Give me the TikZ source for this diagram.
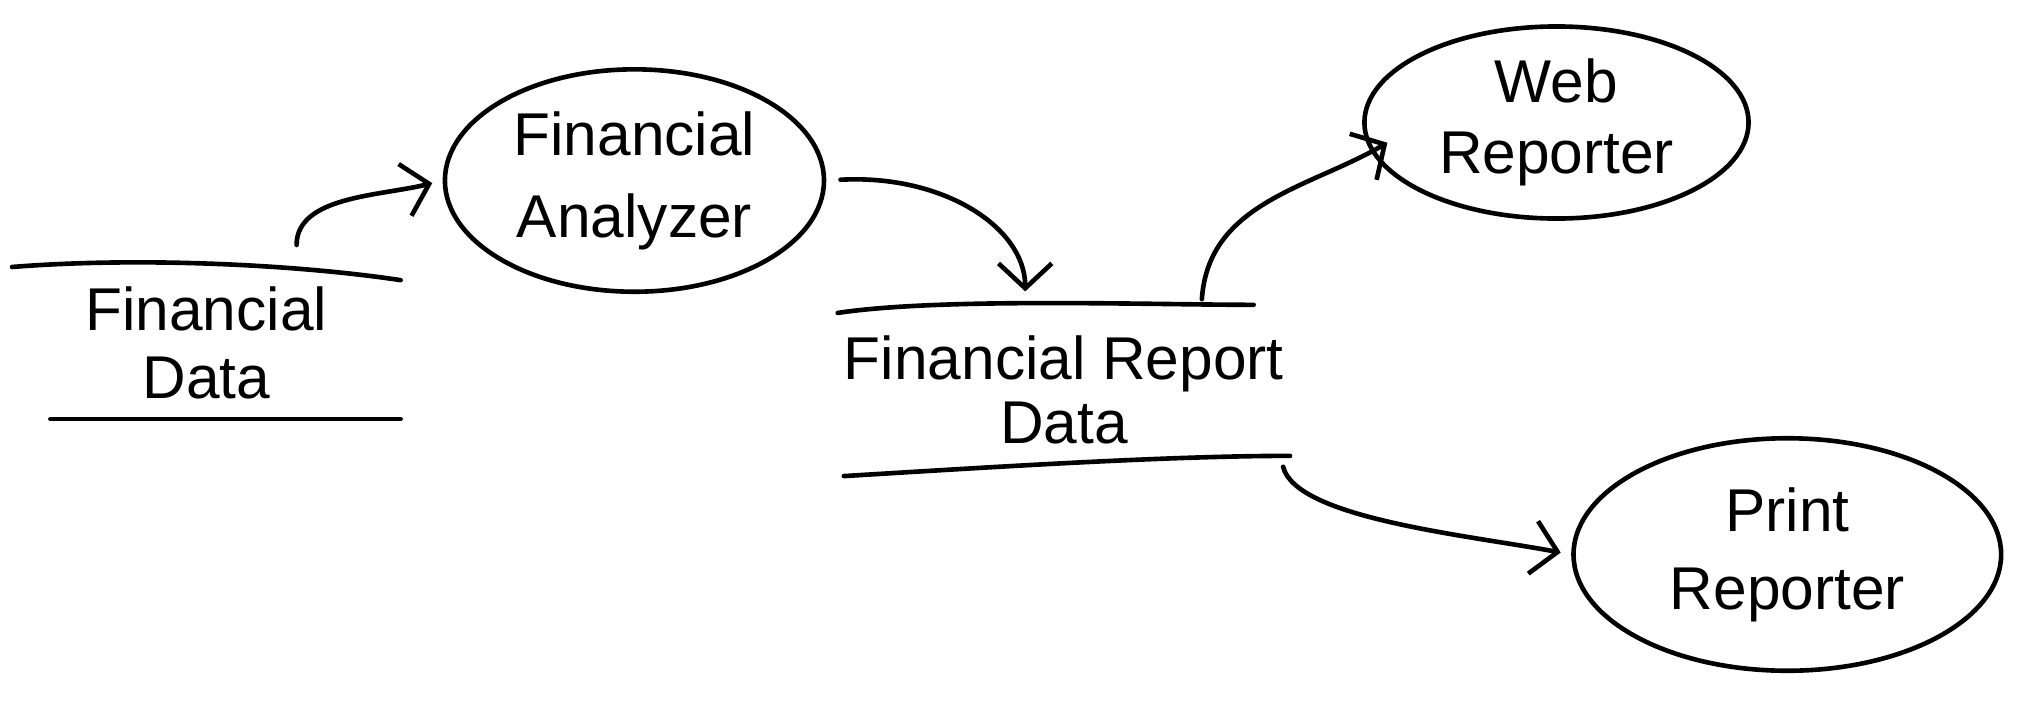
\documentclass[tikz,border=0pt]{standalone}
\usepackage{fontspec}
\setmainfont{Liberation Sans}
\usetikzlibrary{arrows.meta,shapes.geometric}
\tikzset{
  pen/.style={line width=1.3pt, line cap=round, line join=round},
  proc/.style={draw, ellipse, pen, inner sep=0pt, align=center},
  storebox/.style={inner sep=0pt, align=center},
  flow/.style={pen, -{Straight Barb[length=7pt,width=15pt,line width=1.3pt]}},
  hand/.style={font=\fontsize{17}{#1}\selectfont}
}
\begin{document}
\begin{tikzpicture}[x=0.01275cm,y=-0.01275cm]
\useasboundingbox (0,0) rectangle (1568,554);
\fill[white] (0,0) rectangle (1568,554);

% processes
\node[proc, hand=23pt, minimum width=3.75cm, minimum height=2.2cm] (fa) at (492,140) {Financial\\Analyzer};
\node[proc, hand=20pt, minimum width=3.8cm, minimum height=1.9cm] (web) at (1207,95) {Web\\Reporter};
\node[proc, hand=22pt, minimum width=4.23cm, minimum height=2.3cm] (pr) at (1386,430) {Print\\Reporter};

% data stores
\node[storebox, hand=19pt, minimum width=3.83cm, minimum height=1.49cm] (fd) at (160,266) {Financial\\Data};
\node[storebox, hand=18pt, minimum width=4.46cm, minimum height=1.5cm] (frd) at (825,302) {Financial Report\\Data};

\draw[pen] (fd.north west) .. controls +(100,-8) and +(-80,-12) .. ([yshift=-0.13cm]fd.north east);
\draw[pen] ([xshift=0.38cm]fd.south west) -- (fd.south east);
\draw[pen] (frd.north west) .. controls +(80,-12) and +(-80,0) .. ([xshift=-0.36cm,yshift=0.08cm]frd.north east);
\draw[pen] ([xshift=0.06cm,yshift=-0.1cm]frd.south west) .. controls +(100,-6) and +(-100,0) .. ([yshift=0.1cm]frd.south east);

% connectors
\coordinate (a1s) at (230,190);
\coordinate (a2e) at (795,226);
\coordinate (a3s) at (932,232);
\coordinate (a4s) at (995,362);

\draw[flow, shorten >=3pt] (a1s) .. controls +(0,-38) and +(-48,12) .. (fa.west);
\draw[flow, shorten <=4pt] (fa.east) .. controls +(90,-5) and +(0,-50) .. (a2e);
\draw[flow] (a3s) .. controls +(5,-75) and +(-60,35) .. ([xshift=0.25cm,yshift=-0.2cm]web.west);
\draw[flow, shorten >=3pt] (a4s) .. controls +(10,40) and +(-80,-15) .. (pr.west);
\end{tikzpicture}
\end{document}
